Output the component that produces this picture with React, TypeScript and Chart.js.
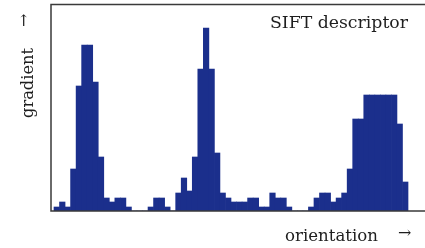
import React, { useEffect, useRef } from "react";
import { Chart, registerables } from "chart.js";

Chart.register(...registerables);

// 64 orientation bins of the SIFT descriptor histogram
const binCount = 64;
const gradientValues = [
  4, 9, 4, 42, 125, 166, 166, 129, 54, 13,
  9, 13, 13, 4, 0, 0, 0, 4, 13, 13,
  4, 0, 18, 33, 20, 54, 142, 183, 142, 58,
  18, 13, 9, 9, 9, 13, 13, 4, 4, 18,
  13, 13, 4, 0, 0, 0, 4, 13, 18, 18,
  9, 13, 18, 42, 92, 92, 116, 116, 116, 116,
  116, 116, 87, 29,
];
const titleText = "SIFT descriptor";
const xLabel = "orientation";
const yLabel = "gradient";
const arrowGlyph = "→";

const BAR_COLOR = "#1b2f8c";
const AXIS_COLOR = "#3a3a3a";
const TEXT_COLOR = "#1e1e1e";
const FONT = "DejaVu Serif";

const decorPlugin = {
  id: "decor",
  afterDraw(chart: any) {
    const { ctx, chartArea } = chart;
    const { left, top, right, bottom } = chartArea;
    ctx.save();
    // axes / frame
    ctx.strokeStyle = AXIS_COLOR;
    ctx.lineWidth = 1.5;
    ctx.beginPath();
    ctx.moveTo(right, top + 0.5);
    ctx.lineTo(left, top + 0.5);
    ctx.lineTo(left, bottom);
    ctx.lineTo(right, bottom);
    ctx.stroke();

    ctx.fillStyle = TEXT_COLOR;
    ctx.textBaseline = "alphabetic";

    // title, fitted into its box
    const drawFitted = (text: string, x: number, y: number, w: number, size: number) => {
      ctx.font = `${size}px "${FONT}"`;
      const m = ctx.measureText(text).width;
      ctx.save();
      ctx.translate(x, y);
      ctx.scale(w / m, 1);
      ctx.textAlign = "left";
      ctx.fillText(text, 0, 0);
      ctx.restore();
    };
    drawFitted(titleText, 270, 28, 138, 16);
    drawFitted(xLabel, 285, 241, 93, 16);
    // x arrow
    ctx.font = `16px "${FONT}"`;
    ctx.textAlign = "left";
    ctx.fillText(arrowGlyph, 398, 238);

    // y label rotated
    ctx.save();
    ctx.translate(33, 118);
    ctx.rotate(-Math.PI / 2);
    ctx.font = `16px "${FONT}"`;
    const mw = ctx.measureText(yLabel).width;
    ctx.scale(70 / mw, 1);
    ctx.fillText(yLabel, 0, 0);
    ctx.restore();

    ctx.save();
    ctx.translate(29, 27);
    ctx.rotate(-Math.PI / 2);
    ctx.font = `16px "${FONT}"`;
    ctx.fillText(arrowGlyph, 0, 0);
    ctx.restore();

    ctx.restore();
  },
};

export default function App() {
  const ref = useRef<HTMLCanvasElement | null>(null);
  useEffect(() => {
    document.body.style.margin = "0";
    const canvas = ref.current!;
    const data = gradientValues.map((v, i) => ({ x: i + 0.5, y: v }));
    const chart = new Chart(canvas, {
      type: "bar",
      data: {
        datasets: [
          {
            data: data as any,
            backgroundColor: BAR_COLOR,
            borderWidth: 0,
            barPercentage: 1,
            categoryPercentage: 1,
          },
        ],
      },
      options: {
        animation: false,
        responsive: false,
        maintainAspectRatio: false,
        layout: { padding: { left: 51, right: 0, top: 4, bottom: 37 } },
        plugins: { legend: { display: false }, tooltip: { enabled: false } },
        scales: {
          x: {
            type: "linear",
            display: false,
            offset: false,
            min: -0.54,
            max: binCount + 3.07,
          },
          y: { display: false, min: 0, max: 207 },
        },
      },
      plugins: [decorPlugin],
    });
    return () => chart.destroy();
  }, []);
  return (
    <div style={{ width: 425, height: 248, background: "#fff" }}>
      <canvas ref={ref} width={425} height={248} style={{ display: "block" }} />
    </div>
  );
}
